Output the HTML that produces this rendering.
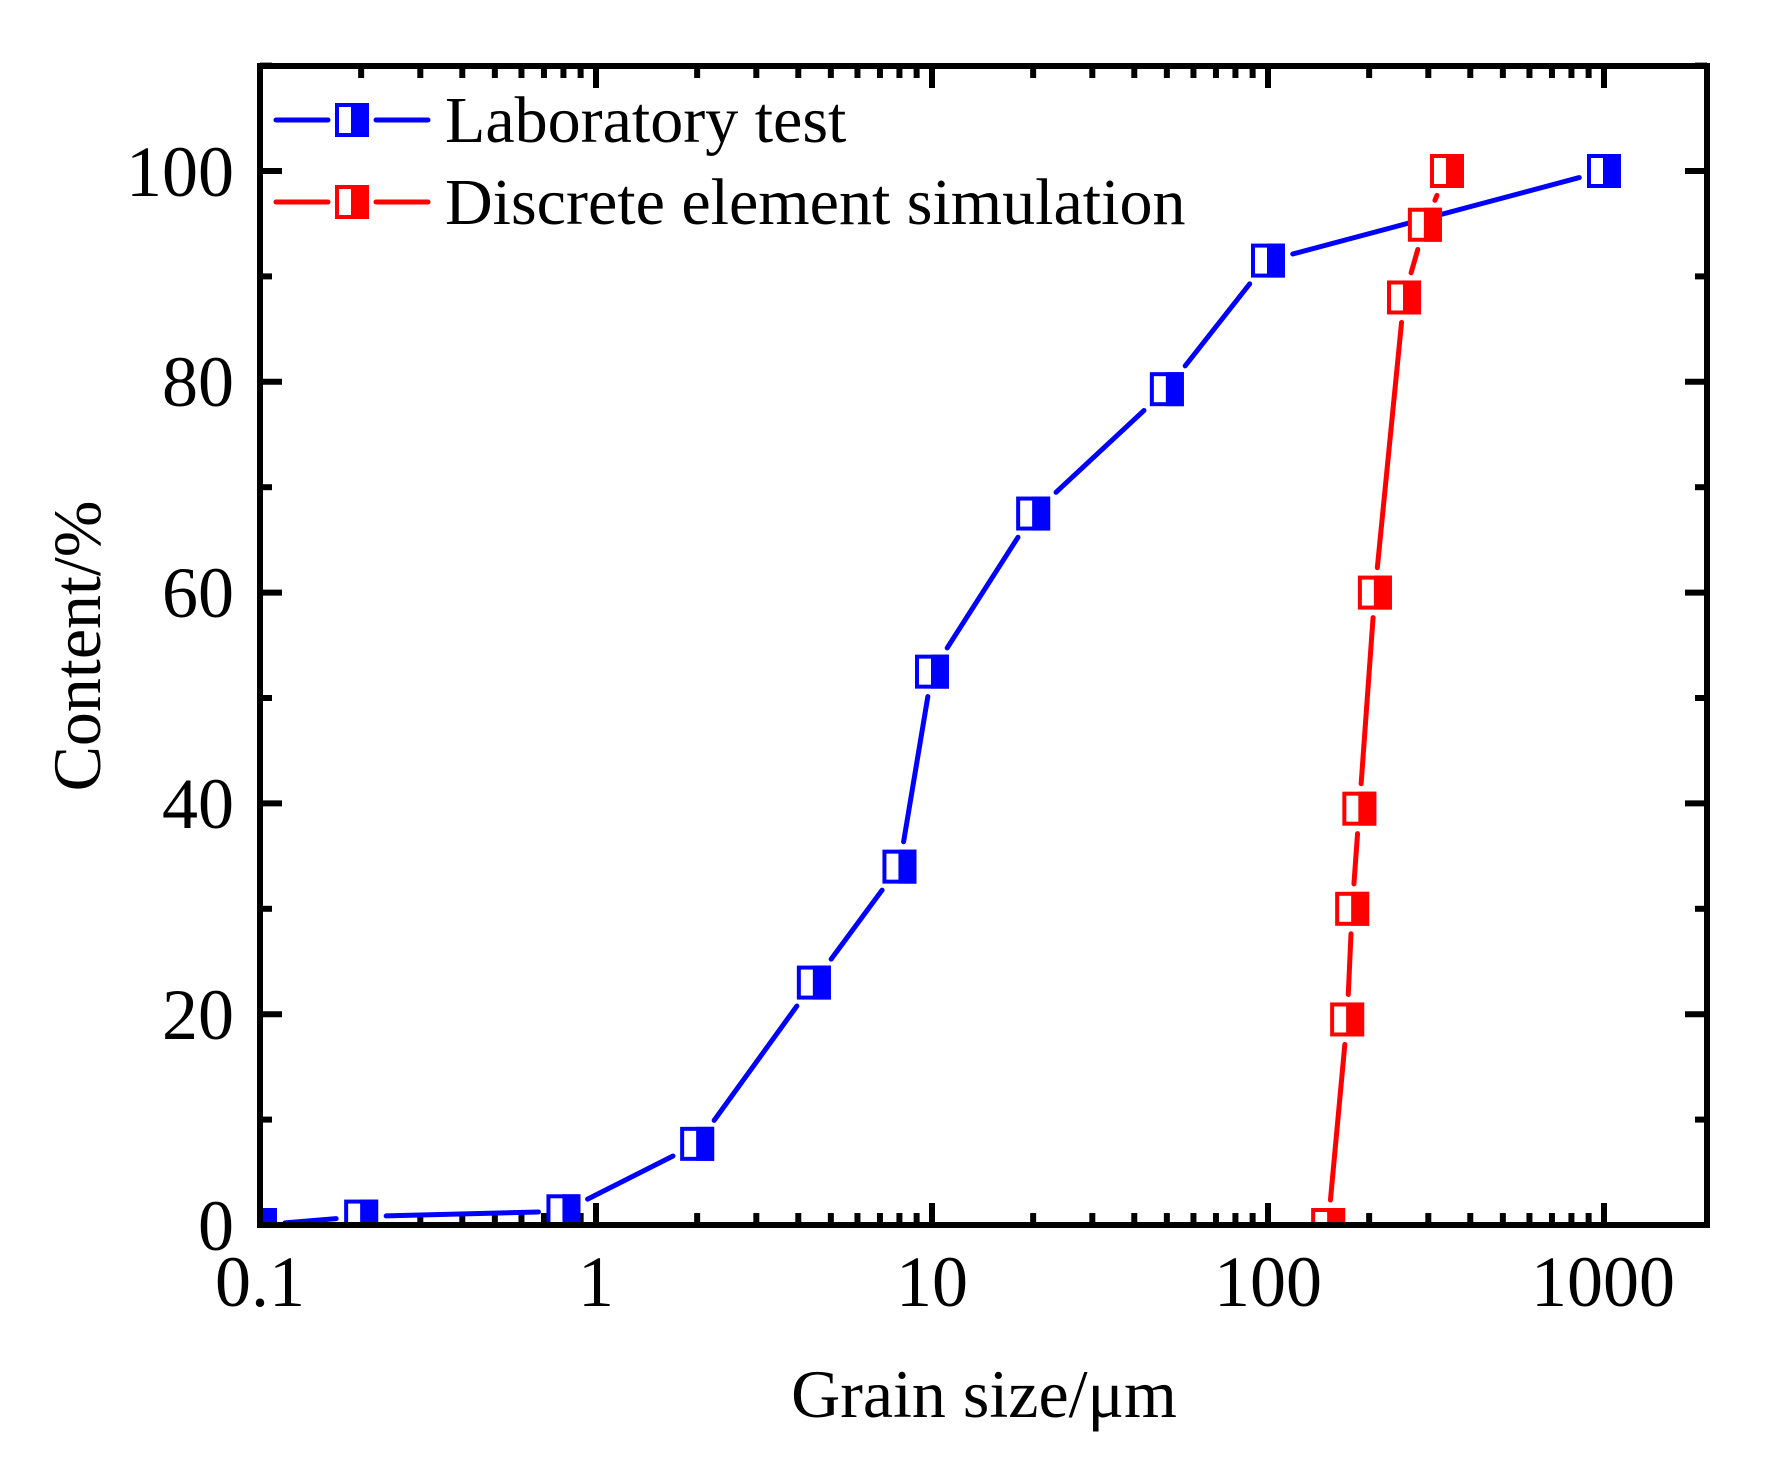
<!DOCTYPE html>
<html><head><meta charset="utf-8"><style>
html,body{margin:0;padding:0;background:#fff;}
svg{display:block;}
text{font-family:"Liberation Serif",serif;fill:#000;}
</style></head><body>
<svg id="s" width="1770" height="1476" viewBox="0 0 1770 1476" xmlns="http://www.w3.org/2000/svg">
<defs><clipPath id="c"><rect x="263" y="69" width="1441" height="1153"/></clipPath></defs>
<g id="ticks"></g>
<g id="data" clip-path="url(#c)"></g>
<rect x="260" y="66" width="1447" height="1159" fill="none" stroke="#000" stroke-width="6"/>
<g font-size="72" text-anchor="end">
<text x="234" y="1250">0</text>
<text x="234" y="1039">20</text>
<text x="234" y="828">40</text>
<text x="234" y="617">60</text>
<text x="234" y="406">80</text>
<text x="234" y="196">100</text>
</g>
<g font-size="72" text-anchor="middle">
<text x="260" y="1306">0.1</text>
<text x="596" y="1306">1</text>
<text x="932" y="1306">10</text>
<text x="1268" y="1306">100</text>
<text x="1603" y="1306">1000</text>
</g>
<text x="984" y="1417" font-size="68" text-anchor="middle">Grain size/μm</text>
<text transform="translate(100,646) rotate(-90)" font-size="68" text-anchor="middle">Content/%</text>
<g id="legend">
<line x1="276" y1="120" x2="328" y2="120" stroke="#00f" stroke-width="5" stroke-linecap="round"/>
<line x1="376" y1="120" x2="428" y2="120" stroke="#00f" stroke-width="5" stroke-linecap="round"/>
<rect x="337" y="105" width="30" height="30" fill="#fff" stroke="#00f" stroke-width="4"/>
<rect x="351" y="103" width="18" height="34" fill="#00f"/>
<text x="445" y="142" font-size="66">Laboratory test</text>
<line x1="276" y1="202" x2="328" y2="202" stroke="#f00" stroke-width="5" stroke-linecap="round"/>
<line x1="376" y1="202" x2="428" y2="202" stroke="#f00" stroke-width="5" stroke-linecap="round"/>
<rect x="337" y="187" width="30" height="30" fill="#fff" stroke="#f00" stroke-width="4"/>
<rect x="351" y="185" width="18" height="34" fill="#f00"/>
<text x="445" y="224" font-size="66">Discrete element simulation</text>
</g>
</svg>
<script>
var L=260,B=1225,D=336,H=1054,T=66,R=1707;
function X(v){return L+(Math.log10(v)+1)*D;}
function Y(p){return B-p/100*H;}
var ns="http://www.w3.org/2000/svg";
function el(p,tag,a){var e=document.createElementNS(ns,tag);for(var k in a)e.setAttribute(k,a[k]);p.appendChild(e);return e;}
var tk=document.getElementById("ticks");
for(var p=0;p<=110;p+=10){var y=Y(p);var len=(p%20==0)?22:12;
el(tk,"line",{x1:L,y1:y,x2:L+len,y2:y,stroke:"#000","stroke-width":6});
el(tk,"line",{x1:R,y1:y,x2:R-len,y2:y,stroke:"#000","stroke-width":6});}
for(var e=-1;e<=3;e++){for(var m=1;m<10;m++){var v=m*Math.pow(10,e);var x=X(v);if(x>R-2)continue;var len=(m==1)?22:12;
el(tk,"line",{x1:x,y1:B,x2:x,y2:B-len,stroke:"#000","stroke-width":6});
el(tk,"line",{x1:x,y1:T,x2:x,y2:T+len,stroke:"#000","stroke-width":6});}}
var blue=[[0.1,0],[0.2,0.8],[0.8,1.3],[2,7.7],[4.45,23],[8,34],[10,52.5],[20,67.5],[50,79.3],[100,91.5],[1000,100]];
var red=[[151,0],[172,19.5],[178,30],[187,39.5],[208,60],[254,88],[293,94.9],[341,100]];
var dg=document.getElementById("data");
function series(d,col){var pts=d.map(function(q){return [X(q[0]),Y(q[1])];});
for(var i=0;i<pts.length-1;i++){var a=pts[i],b=pts[i+1];var dx=b[0]-a[0],dy=b[1]-a[1],l=Math.sqrt(dx*dx+dy*dy);var t=Math.max(Math.abs(dx),Math.abs(dy));var g=17/t*l+8;if(l<2*g)continue;var ux=dx/l,uy=dy/l;
el(dg,"line",{x1:a[0]+ux*g,y1:a[1]+uy*g,x2:b[0]-ux*g,y2:b[1]-uy*g,stroke:col,"stroke-width":5,"stroke-linecap":"round"});}
return pts;}
function marks(pts,col){pts.forEach(function(q){el(dg,"rect",{x:q[0]-15,y:q[1]-15,width:30,height:30,fill:"#fff",stroke:col,"stroke-width":4});
el(dg,"rect",{x:q[0]-1,y:q[1]-17,width:18,height:34,fill:col});});}
var pb=series(blue,"#00f");var pr=series(red,"#f00");
marks(pb,"#00f");marks(pr,"#f00");
</script>
</body></html>
